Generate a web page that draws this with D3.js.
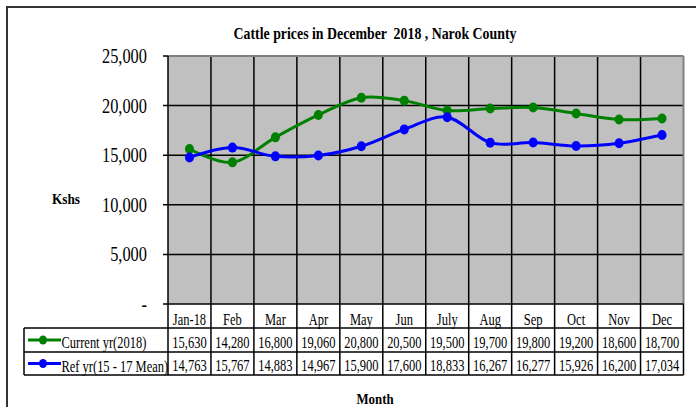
<!DOCTYPE html>
<html><head><meta charset="utf-8">
<script src="https://cdn.jsdelivr.net/npm/d3@7"></script>
<style>body{margin:0;background:#fff}svg{display:block}</style>
</head><body>
<svg id="c" width="696" height="407"></svg>
<script>
const months = ["Jan-18","Feb","Mar","Apr","May","Jun","July","Aug","Sep","Oct","Nov","Dec"];
const currentYr = [15630,14280,16800,19060,20800,20500,19500,19700,19800,19200,18600,18700];
const refYr = [14763,15767,14883,14967,15900,17600,18833,16267,16277,15926,16200,17034];
const currentLabels = ["15,630","14,280","16,800","19,060","20,800","20,500","19,500","19,700","19,800","19,200","18,600","18,700"];
const refLabels = ["14,763","15,767","14,883","14,967","15,900","17,600","18,833","16,267","16,277","15,926","16,200","17,034"];
const yTicks = [0,5000,10000,15000,20000,25000];
const yTickLabels = ["-","5,000","10,000","15,000","20,000","25,000"];
const seriesNames = ["Current yr(2018)","Ref yr(15 - 17 Mean)"];
const title = "Cattle prices in December  2018 , Narok County";

const svg = d3.select("#c");
const L = 168, R = 683.5, T = 56, B = 304;
const row1 = 328, row2 = 352, row3 = 375, tableLeft = 24;
const SX = 0.78;
const font = "'Liberation Serif','Times New Roman',serif";

function txt(x, y, s, size, anchor, bold, sx) {
  const g = svg.append("g").attr("transform", `translate(${x},${y}) scale(${sx||SX},1)`);
  g.append("text").attr("x",0).attr("y",0).attr("text-anchor",anchor||"middle")
    .attr("font-family",font).attr("font-size",size).attr("font-weight",bold?"bold":"normal")
    .attr("fill","#000").style("white-space","pre").text(s);
}

// outer border
svg.append("rect").attr("x",7).attr("y",7).attr("width",720).attr("height",420)
  .attr("fill","#fff").attr("stroke","#333").attr("stroke-width",2);

const x = d3.scaleBand().domain(months).range([L,R]);
const y = d3.scaleLinear().domain([0,25000]).range([B,T]);

// plot area
svg.append("rect").attr("x",L).attr("y",T).attr("width",R-L).attr("height",B-T).attr("fill","#C0C0C0");

// vertical grid lines (also through table)
months.forEach((m,i)=>{
  if(i===0) return;
  svg.append("line").attr("x1",x(m)).attr("x2",x(m)).attr("y1",T).attr("y2",row3)
    .attr("stroke","#000").attr("stroke-width",1.5);
});
// horizontal grid
yTicks.forEach(t=>{
  if(t===0||t===25000) return;
  svg.append("line").attr("x1",L-5).attr("x2",R).attr("y1",y(t)).attr("y2",y(t))
    .attr("stroke","#000").attr("stroke-width",1.5);
});
// top and right border gray
svg.append("line").attr("x1",L).attr("x2",R).attr("y1",T).attr("y2",T).attr("stroke","#808080").attr("stroke-width",2);
svg.append("line").attr("x1",R).attr("x2",R).attr("y1",T).attr("y2",B).attr("stroke","#808080").attr("stroke-width",2);
// ticks at top and bottom
svg.append("line").attr("x1",L-5).attr("x2",L).attr("y1",T).attr("y2",T).attr("stroke","#000").attr("stroke-width",1.5);
svg.append("line").attr("x1",L-5).attr("x2",L).attr("y1",B).attr("y2",B).attr("stroke","#000").attr("stroke-width",1.5);
// left axis
svg.append("line").attr("x1",L).attr("x2",L).attr("y1",T).attr("y2",row3).attr("stroke","#000").attr("stroke-width",1.5);
// table lines
svg.append("line").attr("x1",L).attr("x2",R).attr("y1",B).attr("y2",B).attr("stroke","#000").attr("stroke-width",1.5);
[row1,row2,row3].forEach(yy=>svg.append("line").attr("x1",tableLeft).attr("x2",R).attr("y1",yy).attr("y2",yy).attr("stroke","#000").attr("stroke-width",1.5));
svg.append("line").attr("x1",tableLeft).attr("x2",tableLeft).attr("y1",row1).attr("y2",row3).attr("stroke","#000").attr("stroke-width",1.5);
svg.append("line").attr("x1",R).attr("x2",R).attr("y1",B).attr("y2",row3).attr("stroke","#000").attr("stroke-width",1.5);

// y tick labels
yTicks.forEach((t,i)=>{
  txt(147, y(t)+7, yTickLabels[i], 21, "end", false);
});

// series lines
const line = d3.line().x((d,i)=>x(months[i])+x.bandwidth()/2).y(d=>y(d)).curve(d3.curveCardinal.tension(0));
const series = [{v:currentYr,c:"#008000",lab:currentLabels},{v:refYr,c:"#0000FF",lab:refLabels}];
series.forEach(s=>{
  svg.append("path").attr("d",line(s.v)).attr("fill","none").attr("stroke",s.c).attr("stroke-width",3);
  svg.selectAll(null).data(s.v).enter().append("ellipse")
    .attr("cx",(d,i)=>x(months[i])+x.bandwidth()/2).attr("cy",d=>y(d))
    .attr("rx",4.5).attr("ry",5).attr("fill",s.c);
});

// table text
months.forEach((m,i)=>{
  const cx = x(m)+x.bandwidth()/2;
  txt(cx, 325, m, 16, "middle", false);
  txt(cx, 348, currentLabels[i], 16, "middle", false);
  txt(cx, 371, refLabels[i], 16, "middle", false);
});
// legend entries
series.forEach((s,k)=>{
  const yy = k===0 ? 340 : 363.5;
  svg.append("line").attr("x1",28).attr("x2",61).attr("y1",yy).attr("y2",yy).attr("stroke",s.c).attr("stroke-width",3);
  svg.append("ellipse").attr("cx",43).attr("cy",yy).attr("rx",4).attr("ry",4.5).attr("fill",s.c);
  txt(61.5, yy+8, seriesNames[k], 16, "start", false);
});

// titles
txt(375, 39, title, 16.5, "middle", true, 0.84);
txt(66, 204, "Kshs", 14, "middle", true, 0.95);
txt(375, 404, "Month", 14, "middle", true, 0.92);
</script>
</body></html>
